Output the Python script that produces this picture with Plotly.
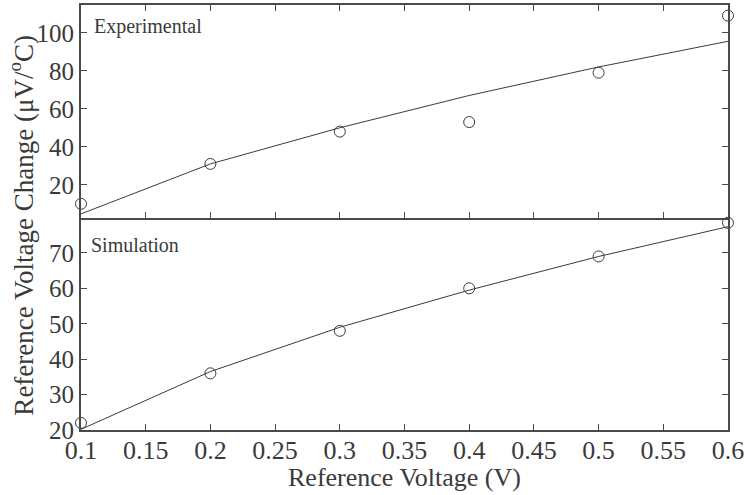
import plotly.graph_objects as go
from plotly.subplots import make_subplots

x_vals = [0.1, 0.2, 0.3, 0.4, 0.5, 0.6]
exp_points = [10, 31, 48, 53, 79, 109]
exp_fit = [4.7, 31, 50, 67, 82, 95.5]
sim_points = [22, 36, 48, 60, 69, 78.5]
sim_fit = [20.2, 36.5, 49, 59.5, 69, 77.4]

x_ticks = [0.1, 0.15, 0.2, 0.25, 0.3, 0.35, 0.4, 0.45, 0.5, 0.55, 0.6]
x_tick_text = ["0.1", "0.15", "0.2", "0.25", "0.3", "0.35", "0.4", "0.45", "0.5", "0.55", "0.6"]
top_ticks = [20, 40, 60, 80, 100]
bottom_ticks = [20, 30, 40, 50, 60, 70]

ink = "#3a3a3a"
axis_col = "#4a4a48"
font_family = "Liberation Serif, Times New Roman, serif"

fig = make_subplots(rows=2, cols=1, shared_xaxes=True, vertical_spacing=0)

fig.add_trace(go.Scatter(x=x_vals, y=exp_fit, mode="lines",
                         line=dict(color=ink, width=1), showlegend=False), row=1, col=1)
fig.add_trace(go.Scatter(x=x_vals, y=exp_points, mode="markers",
                         marker=dict(symbol="circle-open", size=11, color=ink, line=dict(width=1)),
                         showlegend=False, cliponaxis=False), row=1, col=1)
fig.add_trace(go.Scatter(x=x_vals, y=sim_fit, mode="lines",
                         line=dict(color=ink, width=1), showlegend=False), row=2, col=1)
fig.add_trace(go.Scatter(x=x_vals, y=sim_points, mode="markers",
                         marker=dict(symbol="circle-open", size=11, color=ink, line=dict(width=1)),
                         showlegend=False, cliponaxis=False), row=2, col=1)

axis_common = dict(showline=True, linecolor=axis_col, linewidth=2, ticks="inside",
                   ticklen=6, tickcolor=axis_col, tickwidth=1, showgrid=False, zeroline=False)

fig.update_xaxes(**axis_common, range=[0.1, 0.6], tickvals=x_ticks, ticktext=x_tick_text,
                 ticklabeloverflow="allow",
                 tickfont=dict(family=font_family, size=26, color=ink))
fig.update_xaxes(mirror="ticks", row=1, col=1)
fig.update_xaxes(mirror=False, row=2, col=1, ticklabelstandoff=-4)
fig.update_yaxes(**axis_common, mirror="ticks", ticklabelstandoff=0,
                 tickfont=dict(family=font_family, size=25, color=ink))
fig.update_yaxes(range=[2.8, 114.6], tickvals=top_ticks, row=1, col=1)
fig.update_yaxes(range=[20, 80], tickvals=bottom_ticks, row=2, col=1)

fig.add_annotation(text="Experimental", xref="x domain", yref="y domain", x=0.017, y=0.90,
                   xanchor="left", yanchor="middle", showarrow=False,
                   font=dict(family=font_family, size=20, color=ink))
fig.add_annotation(text="Simulation", xref="x2 domain", yref="y2 domain", x=0.013, y=0.87,
                   xanchor="left", yanchor="middle", showarrow=False,
                   font=dict(family=font_family, size=20, color=ink))
fig.add_annotation(text="Reference Voltage (V)", xref="paper", yref="paper",
                   x=0.5, y=-0.112, showarrow=False, xanchor="center", yanchor="middle",
                   font=dict(family=font_family, size=26, color=ink))
fig.add_annotation(text="Reference Voltage Change (μV/<sup>o</sup>C)", xref="paper", yref="paper",
                   x=-0.092, y=0.482, textangle=-90, showarrow=False,
                   xanchor="center", yanchor="middle",
                   font=dict(family=font_family, size=27, color=ink))

fig.update_layout(width=747, height=495, margin=dict(l=81, r=16, t=3, b=65),
                  plot_bgcolor="white", paper_bgcolor="white",
                  font=dict(family=font_family, color=ink))

fig.write_html("out.html")
